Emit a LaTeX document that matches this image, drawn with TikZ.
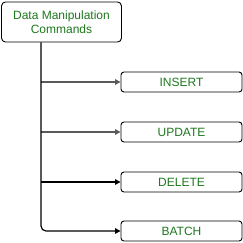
\documentclass[tikz,border=0pt]{standalone}
\usepackage{fontspec}
\setmainfont{Liberation Sans}
\usetikzlibrary{arrows.meta}
\definecolor{txtgreen}{RGB}{30,120,30}
\definecolor{linegray}{RGB}{90,90,90}
\begin{document}
\begin{tikzpicture}[x=1pt,y=-1pt,
  box/.style={draw=black,line width=0.9pt,rounded corners=4pt,fill=white,text=txtgreen,font=\fontsize{12}{14}\selectfont,align=center,inner sep=0pt},
  child/.style={box,rounded corners=3pt,minimum width=121pt,minimum height=20pt},
  conn/.style={line width=1.2pt,-{Triangle[length=5.5pt,width=5.5pt]}}]
\useasboundingbox (0,0) rectangle (243,242);
\node[box,minimum width=120pt,minimum height=40pt] (root) at (61.5,22) {Data Manipulation\\Commands};
\node[child] (ins) at (181.5,82) {INSERT};
\node[child] (upd) at (181.5,132) {UPDATE};
\node[child] (del) at (181.5,182) {DELETE};
\node[child] (bat) at (181.5,231) {BATCH};
\coordinate (top) at (41,42);
\draw[conn,linegray] (41,82) -- (ins.west);
\draw[conn,linegray] (41,132) -- (upd.west);
\draw[conn] (41,182) -- (del.west);
\draw[conn,rounded corners=5pt] (root.south -| top) -- (41,231) -- (bat.west);
\end{tikzpicture}
\end{document}
